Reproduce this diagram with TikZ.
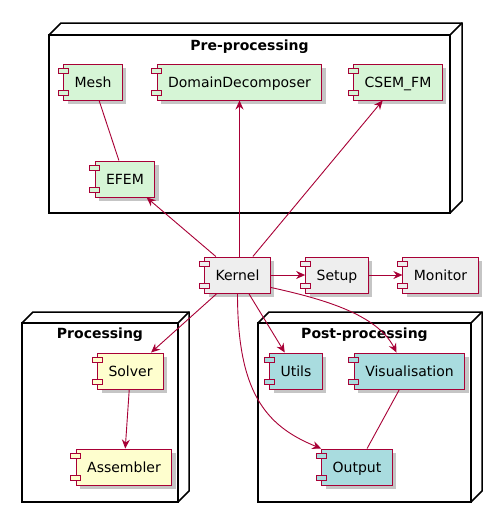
\documentclass[tikz,border=0pt]{standalone}
\usepackage{fontspec}
\setmainfont{DejaVu Sans}
\usetikzlibrary{arrows.meta, shadows}

\definecolor{umlred}{HTML}{A80036}
\definecolor{pregreen}{HTML}{D6F5D6}
\definecolor{coregray}{HTML}{EEEEEE}
\definecolor{procyellow}{HTML}{FEFECE}
\definecolor{postblue}{HTML}{A9DCDF}

\tikzset{
  comp/.style={draw=umlred, line width=1pt, minimum height=36pt, inner xsep=11pt,
    text height=13pt, text depth=3pt, font=\fontsize{14pt}{16pt}\selectfont,
    drop shadow={shadow xshift=4pt, shadow yshift=-4pt, fill=black!45, opacity=.5}},
  precomp/.style={comp, fill=pregreen},
  corecomp/.style={comp, fill=coregray},
  proccomp/.style={comp, fill=procyellow},
  postcomp/.style={comp, fill=postblue},
  icon/.style={draw=umlred, line width=1pt},
  pkg/.style={draw=black, line width=1.5pt, fill=white, line join=miter},
  pkgtitle/.style={anchor=base, font=\bfseries\fontsize{14pt}{16pt}\selectfont},
  conn/.style={draw=umlred, line width=0.9pt, -{Stealth[length=9pt, width=8pt, inset=3pt]}},
  link/.style={draw=umlred, line width=0.9pt}
}

\begin{document}
\begin{tikzpicture}[x=1pt, y=-1pt]
  \useasboundingbox (0,0) rectangle (491,512);

  % --- Packages (3D nodes), drawn first ---
  % Pre-processing
  \draw[pkg] (61,23) -- (462,23) -- (462,201) -- (450,213) -- (49,213) -- (49,35) -- cycle;
  \draw[pkg] (49,35) rectangle (450,213);
  \draw[pkg] (450,35) -- (462,23);
  \node[pkgtitle] (pretitle) at (249.5,50) {Pre-processing};

  % Processing
  \draw[pkg] (33,312) -- (189,312) -- (189,491) -- (178,502) -- (22,502) -- (22,323) -- cycle;
  \draw[pkg] (22,323) rectangle (178,502);
  \draw[pkg] (178,323) -- (189,312);
  \node[pkgtitle] (proctitle) at (100,338) {Processing};

  % Post-processing
  \draw[pkg] (269,312) -- (482,312) -- (482,491) -- (471,502) -- (258,502) -- (258,323) -- cycle;
  \draw[pkg] (258,323) rectangle (471,502);
  \draw[pkg] (471,323) -- (482,312);
  \node[pkgtitle] (posttitle) at (364.5,338) {Post-processing};

  % --- Components ---
  \node[precomp] (mesh) at (93,82) {Mesh};
  \node[precomp] (dd) at (239.5,82) {DomainDecomposer};
  \node[precomp] (csem) at (398,82) {CSEM\_FM};
  \node[precomp] (efem) at (125,179) {EFEM};

  \node[corecomp] (kernel) at (237.5,275) {Kernel};
  \node[corecomp] (setup) at (337,275) {Setup};
  \node[corecomp] (monitor) at (440.5,275) {Monitor};

  \node[proccomp] (solver) at (130.5,371) {Solver};
  \node[proccomp] (assembler) at (124,467) {Assembler};

  \node[postcomp] (utils) at (296,371) {Utils};
  \node[postcomp] (vis) at (409.5,371) {Visualisation};
  \node[postcomp] (output) at (357,467) {Output};

  % component icons on the left edge
  \foreach \n/\c in {mesh/pregreen, dd/pregreen, csem/pregreen, efem/pregreen,
    kernel/coregray, setup/coregray, monitor/coregray,
    solver/procyellow, assembler/procyellow,
    utils/postblue, vis/postblue, output/postblue}{
    \draw[icon, fill=\c] ([xshift=-5pt, yshift=-5pt]\n.north west) rectangle ++(10,5);
    \draw[icon, fill=\c] ([xshift=-5pt, yshift=10pt]\n.south west) rectangle ++(10,5);
  }

  % --- Connectors ---
  \draw[link] (mesh) -- (efem);
  \draw[conn] (kernel) -- (efem);
  \draw[conn] (kernel.north -| dd.south) -- (dd.south);
  \draw[conn] (kernel) -- (csem);
  \draw[conn] (kernel) -- (setup);
  \draw[conn] (setup) -- (monitor);
  \draw[conn] (kernel) -- (solver);
  \draw[conn] (solver) -- (assembler);
  \draw[conn] (kernel) -- (utils);
  \draw[conn] ([yshift=6pt]kernel.south east) .. controls +(45,10) and +(-20,-40) .. ([xshift=-13pt]vis.north);
  \draw[conn] (kernel.south) .. controls +(0,97) and +(-57,-23) .. (output.north west);
  \draw[link] (vis) -- (output);

\end{tikzpicture}
\end{document}
